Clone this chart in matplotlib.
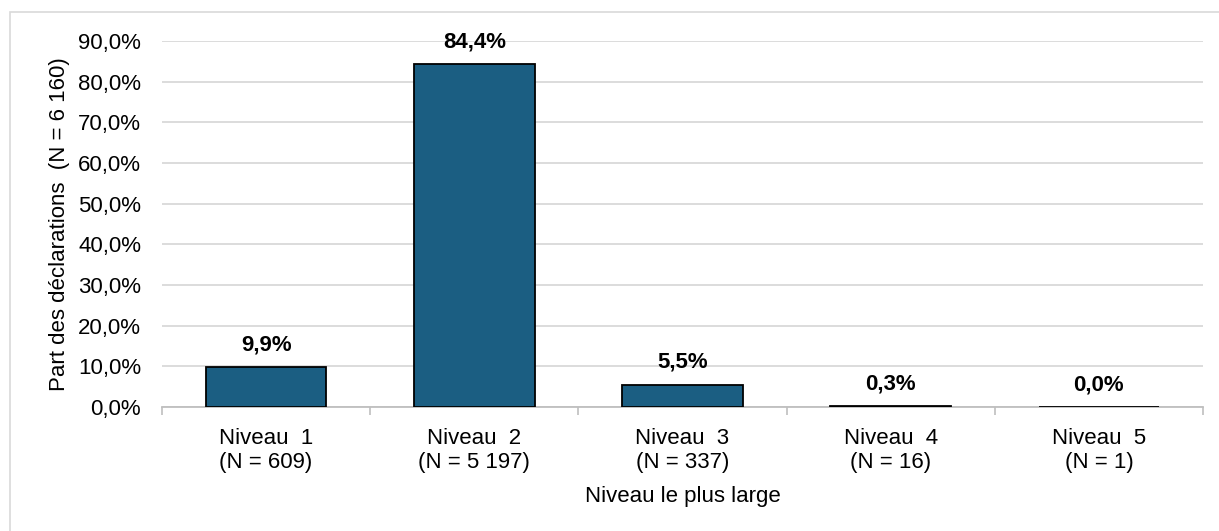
import matplotlib.pyplot as plt
from matplotlib.patches import Rectangle

plt.rcParams['font.family'] = ['Liberation Sans', 'DejaVu Sans']

# data
categories = ['Niveau  1\n(N = 609)', 'Niveau  2\n(N = 5 197)', 'Niveau  3\n(N = 337)',
              'Niveau  4\n(N = 16)', 'Niveau  5\n(N = 1)']
values = [9.9, 84.4, 5.5, 0.3, 0.0]
yticks = [0, 10, 20, 30, 40, 50, 60, 70, 80, 90]

FS = 16

fig = plt.figure(figsize=(12.19, 5.31), dpi=100)
ax = fig.add_axes([162 / 1219, 1 - 407 / 531, 1041 / 1219, 366 / 531])

# light frame around the chart like the Excel export
fig.patches.append(Rectangle((10 / 1219, -0.05), 1.2, 1 - 12 / 531 + 0.05,
                             transform=fig.transFigure, fill=False,
                             edgecolor='#d9d9d9', linewidth=1.2))

x = range(len(values))
ax.bar(x, values, width=0.58, color='#1B5E82', edgecolor='black', linewidth=1.3, zorder=3)

for i, v in enumerate(values):
    ax.annotate(f'{v:.1f}%'.replace('.', ','), (i, v), xytext=(0, 16),
                textcoords='offset points', ha='center', va='center',
                fontsize=FS, fontweight='bold')

ax.set_xlim(-0.5, len(values) - 0.5)
ax.set_ylim(0, 90)
ax.set_yticks(yticks)
ax.set_yticklabels([f'{t:.1f}%'.replace('.', ',') for t in yticks], fontsize=FS)
ax.set_xticks(list(x))
ax.set_xticklabels(categories, fontsize=FS, linespacing=1.2)
ax.tick_params(axis='x', length=0, pad=15)
ax.tick_params(axis='y', length=0, pad=15)

# category separators under the axis
ax.set_xticks([i - 0.5 for i in range(len(values) + 1)], minor=True)
ax.tick_params(axis='x', which='minor', length=6, color='#bfbfbf', width=1.2)

ax.grid(axis='y', color='#d9d9d9', linewidth=1.3, zorder=0)
for s in ['top', 'right', 'left']:
    ax.spines[s].set_visible(False)
ax.spines['bottom'].set_color('#bfbfbf')
ax.spines['bottom'].set_linewidth(1.3)

ax.set_xlabel('Niveau le plus large', fontsize=FS, labelpad=9)
ax.set_ylabel('Part des déclarations  (N = 6 160)', fontsize=FS, labelpad=6)

fig.savefig('out.png', dpi=100)
